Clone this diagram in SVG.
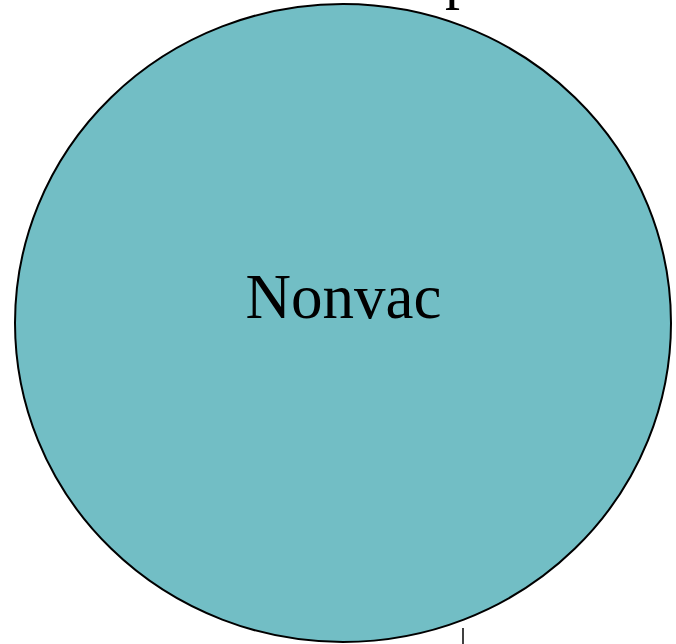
<svg xmlns="http://www.w3.org/2000/svg" width="676" height="644" viewBox="0 0 676 644">
<style>
.lbl{font-family:"Liberation Serif","Times New Roman",serif;fill:#000;}
</style>
<rect width="676" height="644" fill="#fff"/>
<text class="lbl" x="445" y="-3" font-size="60">p</text>
<g id="nonvac">
<ellipse cx="343" cy="323" rx="328" ry="319" fill="#72BEC5" stroke="#000" stroke-width="2"/>
<text class="lbl" x="343.5" y="318" font-size="63" text-anchor="middle">Nonvac</text>
</g>
<g id="connectors">
<line x1="463" y1="628" x2="463" y2="644" stroke="#000" stroke-width="1.5"/>
</g>
</svg>
